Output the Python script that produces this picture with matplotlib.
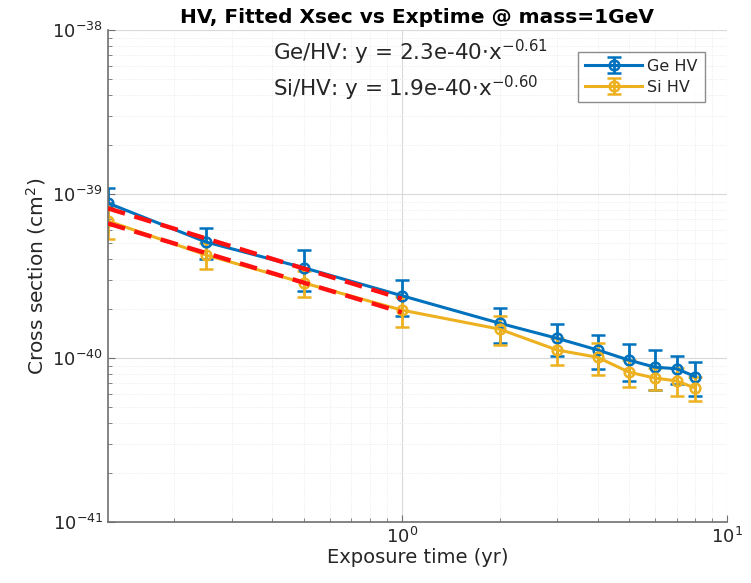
import matplotlib
matplotlib.use('Agg')
import matplotlib.pyplot as plt
import numpy as np
from matplotlib.ticker import LogLocator, NullFormatter

# exposure times (yr)
exptime = [0.125, 0.25, 0.5, 1, 2, 3, 4, 5, 6, 7, 8]

# fitted cross sections (cm^2) and errors
ge_xsec = [8.8e-40, 5.1e-40, 3.55e-40, 2.4e-40, 1.63e-40, 1.32e-40, 1.12e-40,
           9.7e-41, 8.8e-41, 8.6e-41, 7.7e-41]
ge_err = [2.1e-40, 1.1e-40, 1.0e-40, 0.6e-40, 0.39e-40, 0.29e-40, 0.26e-40,
          0.25e-40, 0.24e-40, 0.17e-40, 0.18e-40]
si_xsec = [6.85e-40, 4.25e-40, 2.87e-40, 1.96e-40, 1.5e-40, 1.12e-40, 1.01e-40,
           8.2e-41, 7.55e-41, 7.25e-41, 6.55e-41]
si_err = [1.55e-40, 0.76e-40, 0.52e-40, 0.41e-40, 0.3e-40, 0.21e-40, 0.22e-40,
          0.15e-40, 0.12e-40, 0.14e-40, 0.11e-40]

# power-law fits, shown over the first year
fit_range = [0.125, 1]
ge_fit = (2.3e-40, -0.61)
si_fit = (1.9e-40, -0.60)

ge_col = '#0072BD'
si_col = '#EDB120'
txt_col = '#262626'

fig = plt.figure(figsize=(7.51, 5.83), dpi=100)
ax = fig.add_axes([0.1438, 0.1046, 0.8242, 0.8439])

ax.errorbar(exptime, ge_xsec, yerr=ge_err, color=ge_col, lw=2.2, marker='o',
            mfc='none', ms=7, mew=1.8, capsize=5, capthick=2, elinewidth=2,
            label='Ge HV')
ax.errorbar(exptime, si_xsec, yerr=si_err, color=si_col, lw=2.2, marker='o',
            mfc='none', ms=7, mew=1.8, capsize=5, capthick=2, elinewidth=2,
            label='Si HV')

fx = np.array(fit_range)
ax.plot(fx, ge_fit[0] * fx ** ge_fit[1], '--', color='#FF1010', lw=3.2,
        dashes=(4, 2.2), zorder=5)
ax.plot(fx, si_fit[0] * fx ** si_fit[1], '--', color='#FF1010', lw=3.2,
        dashes=(4, 2.2), zorder=5)

ax.set_xscale('log')
ax.set_yscale('log')
ax.set_xlim(0.125, 10)
ax.set_ylim(1e-41, 1e-38)
ax.set_xticks([1, 10])
ax.set_yticks([1e-41, 1e-40, 1e-39, 1e-38])

ax.yaxis.set_minor_locator(LogLocator(base=10, subs=np.arange(2, 10)))
ax.xaxis.set_minor_locator(LogLocator(base=10, subs=np.arange(2, 10)))
ax.xaxis.set_minor_formatter(NullFormatter())
ax.yaxis.set_minor_formatter(NullFormatter())

ax.grid(True, which='major', color='#d9d9d9', lw=0.8)
ax.grid(True, which='minor', color='#e6e6e6', lw=0.6, ls=':')
ax.set_axisbelow(True)

for s in ['top', 'right']:
    ax.spines[s].set_visible(False)
for s in ['left', 'bottom']:
    ax.spines[s].set_color('#707070')
    ax.spines[s].set_linewidth(1.2)

ax.tick_params(which='both', direction='in', colors='#707070',
               labelcolor=txt_col, labelsize=13)
ax.tick_params(which='major', length=5)
ax.tick_params(which='minor', length=3)

ax.set_xlabel('Exposure time (yr)', fontsize=14, color=txt_col, labelpad=1)
ax.set_ylabel('Cross section (cm$^2$)', fontsize=14.5, color=txt_col, labelpad=3)
ax.set_title('HV, Fitted Xsec vs Exptime @ mass=1GeV', fontsize=14.5,
             fontweight='bold', color='black', pad=5)

ax.text(0.267, 0.955, 'Ge/HV: y = %.1e$\\cdot$x$^{%.2f}$' % ge_fit,
        transform=ax.transAxes, fontsize=15.5, color=txt_col, va='center')
ax.text(0.267, 0.882, 'Si/HV: y = %.1e$\\cdot$x$^{%.2f}$' % si_fit,
        transform=ax.transAxes, fontsize=15.5, color=txt_col, va='center')

leg = ax.legend(loc='upper right', bbox_to_anchor=(0.977, 0.972), fontsize=11.5,
                frameon=True, fancybox=False, edgecolor='#707070',
                handlelength=3.6, borderpad=0.45, labelspacing=0.35,
                handletextpad=0.3)
leg.get_frame().set_linewidth(1)
for t in leg.get_texts():
    t.set_color(txt_col)

fig.savefig('out.png', dpi=100)
